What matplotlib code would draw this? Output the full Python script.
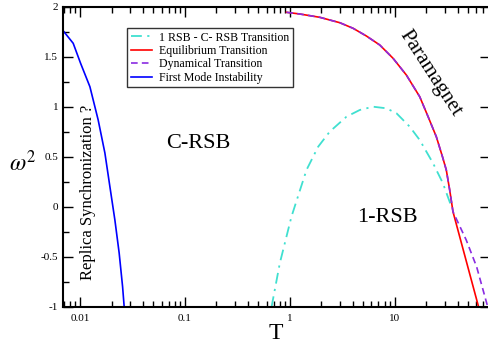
import matplotlib
matplotlib.use("Agg")
import matplotlib.pyplot as plt
from matplotlib.ticker import FixedLocator, LogLocator, NullFormatter

plt.rcParams["font.family"] = ["Liberation Serif", "DejaVu Serif"]
plt.rcParams["mathtext.fontset"] = "stix"

# 1 RSB - C-RSB transition (dash-dot cyan)
crsb_T = [0.670, 0.803, 1.037, 1.442, 1.864, 2.40, 3.47, 4.64, 6.21, 8.33,
          10.4, 13.9, 17.3, 23.2, 28.8, 34.7]
crsb_w = [-1.0, -0.563, -0.097, 0.37, 0.603, 0.753, 0.903, 0.97, 1.003, 0.987,
          0.937, 0.803, 0.67, 0.437, 0.237, 0.003]

# equilibrium transition (red)
eq_T = [0.930, 1.245, 1.931, 2.995, 4.01, 5.37, 7.20, 9.64, 12.9, 17.3, 20.8,
        24.9, 28.5, 31.0, 33.4, 35.9, 63.0]
eq_w = [1.947, 1.93, 1.897, 1.843, 1.787, 1.71, 1.62, 1.487, 1.32, 1.103, 0.903,
        0.703, 0.503, 0.37, 0.17, -0.047, -1.0]

# dynamical transition (purple dashed)
dyn_T = [0.930, 1.245, 1.931, 2.995, 4.01, 5.37, 7.20, 9.64, 12.9, 17.3, 20.8,
         24.9, 28.5, 31.0, 33.4, 35.9, 48.0, 60.4, 77.0]
dyn_w = [1.947, 1.93, 1.897, 1.843, 1.787, 1.71, 1.62, 1.487, 1.32, 1.103, 0.903,
         0.703, 0.503, 0.37, 0.17, -0.047, -0.33, -0.6, -1.0]

# first mode instability (blue)
inst_T = [0.00704, 0.00863, 0.01015, 0.01245, 0.01493, 0.01730, 0.01931,
          0.02154, 0.02366, 0.02551, 0.02642]
inst_w = [1.753, 1.637, 1.437, 1.203, 0.87, 0.54, 0.203, -0.13, -0.46, -0.797, -1.0]

xtick_vals = [0.01, 0.1, 1, 10]
xtick_labels = ["0.01", "0.1", "1", "10"]
ytick_vals = [-1, -0.5, 0, 0.5, 1, 1.5, 2]
ytick_labels = ["-1", "-0.5", "0", "0.5", "1", "1.5", "2"]

fig = plt.figure(figsize=(4.88, 3.5), dpi=100)
ax = fig.add_axes([63 / 488, 43 / 350, 426.5 / 488, 300 / 350])

ax.plot(crsb_T, crsb_w, color="#40E0D0", lw=1.3, dashes=(6, 3, 1.2, 3),
        label="1 RSB - C- RSB Transition")
ax.plot(eq_T, eq_w, color="#FF0000", lw=1.2, label="Equilibrium Transition")
ax.plot(dyn_T, dyn_w, color="#8A2BE2", lw=1.2, dashes=(4, 2.5),
        label="Dynamical Transition")
ax.plot(inst_T, inst_w, color="#0000FF", lw=1.2, label="First Mode Instability")

ax.set_xscale("log")
ax.set_xlim(0.0069, 80)
ax.set_ylim(-1, 2)

ax.xaxis.set_major_locator(FixedLocator(xtick_vals))
ax.set_xticklabels(xtick_labels)
ax.xaxis.set_minor_locator(LogLocator(base=10, subs=range(2, 10)))
ax.xaxis.set_minor_formatter(NullFormatter())
ax.yaxis.set_major_locator(FixedLocator(ytick_vals))
ax.set_yticklabels(ytick_labels)
ax.yaxis.set_minor_locator(FixedLocator([-0.75, -0.25, 0.25, 0.75, 1.25, 1.75]))

ax.tick_params(which="both", direction="in", top=True, right=True, labelsize=8, width=1)
ax.tick_params(which="major", length=7)
ax.tick_params(which="minor", length=4)
ax.tick_params(axis="y", which="minor", right=False)
ax.tick_params(axis="x", pad=5)
for sp in ax.spines.values():
    sp.set_linewidth(1.5)

ax.set_xlabel("T", fontsize=17, labelpad=0)
ax.set_ylabel(r"$\omega^2$", fontsize=17, rotation=0, va="center")
ax.yaxis.set_label_coords(-0.095, 0.48)

ax.text(0.133, 0.64, "C-RSB", fontsize=16, ha="center", va="center")
ax.text(8.6, -0.1, "1-RSB", fontsize=16, ha="center", va="center")
ax.text(22, 1.34, "Paramagnet", fontsize=15, ha="center", va="center", rotation=-57)
ax.text(0.0119, 0.15, "Replica Synchronization ?", fontsize=12, ha="center",
        va="center", rotation=90)

leg = ax.legend(loc="upper left", bbox_to_anchor=(0.15, 0.93), borderaxespad=0,
                fontsize=8.6, frameon=True, fancybox=False, handlelength=1.8,
                handletextpad=0.6, labelspacing=0.12, borderpad=0.3)
leg.get_frame().set_edgecolor("black")
leg.get_frame().set_linewidth(1.0)

fig.savefig("out.png", dpi=100)
